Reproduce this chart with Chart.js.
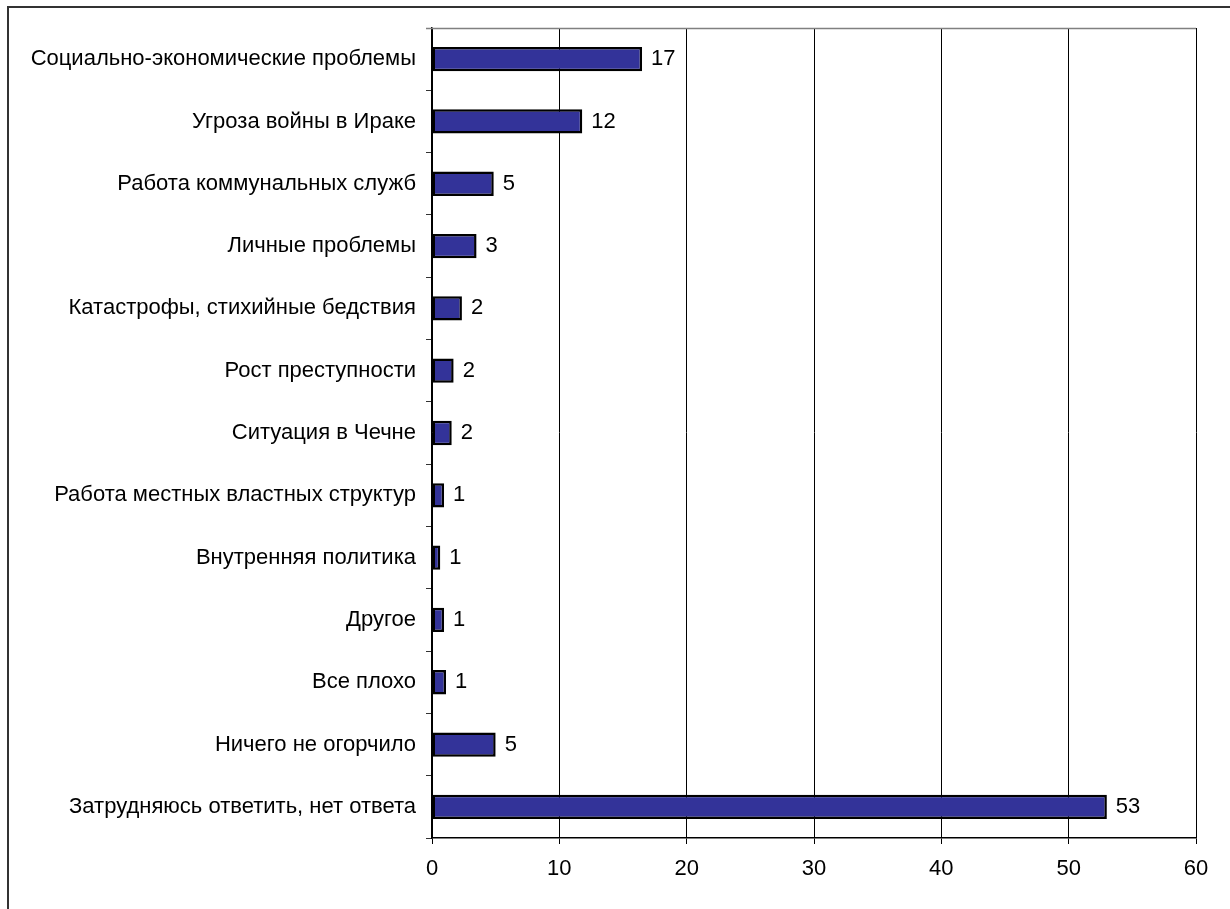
<!DOCTYPE html>
<html>
<head>
<meta charset="utf-8">
<script src="https://cdn.jsdelivr.net/npm/chart.js@4/dist/chart.umd.min.js"></script>
<style>
  html, body { margin: 0; padding: 0; background: #ffffff; }
  #wrap { width: 1230px; height: 909px; }
</style>
</head>
<body>
<div id="wrap"><canvas id="c" width="1230" height="909"></canvas></div>
<script>
const categories = [
  "Социально-экономические проблемы",
  "Угроза войны в Ираке",
  "Работа коммунальных служб",
  "Личные проблемы",
  "Катастрофы, стихийные бедствия",
  "Рост преступности",
  "Ситуация в Чечне",
  "Работа местных властных структур",
  "Внутренняя политика",
  "Другое",
  "Все плохо",
  "Ничего не огорчило",
  "Затрудняюсь ответить, нет ответа"
];
const values = [16.5, 11.8, 4.85, 3.5, 2.35, 1.7, 1.55, 0.95, 0.65, 0.95, 1.1, 5.0, 53.0];
const valueLabels = ["17", "12", "5", "3", "2", "2", "2", "1", "1", "1", "1", "5", "53"];
const xTicks = [0, 10, 20, 30, 40, 50, 60];

const FONT = '"Liberation Sans", Arial, sans-serif';

const framePlugin = {
  id: 'frame',
  beforeDraw(chart) {
    const ctx = chart.ctx;
    ctx.save();
    ctx.fillStyle = '#ffffff';
    ctx.fillRect(0, 0, chart.width, chart.height);
    ctx.strokeStyle = '#333333';
    ctx.lineWidth = 2;
    ctx.beginPath();
    ctx.moveTo(8, chart.height + 5);
    ctx.lineTo(8, 7);
    ctx.lineTo(chart.width + 5, 7);
    ctx.stroke();
    ctx.restore();
  },
  afterDatasetsDraw(chart) {
    const ctx = chart.ctx;
    const a = chart.chartArea;
    ctx.save();
    ctx.strokeStyle = '#808080';
    ctx.lineWidth = 1.5;
    ctx.beginPath();
    ctx.moveTo(a.left - 6, a.top + 0.5);
    ctx.lineTo(a.right, a.top + 0.5);
    ctx.stroke();
    const meta = chart.getDatasetMeta(0);
    ctx.fillStyle = '#000000';
    ctx.font = '22px ' + FONT;
    ctx.textAlign = 'left';
    ctx.textBaseline = 'middle';
    meta.data.forEach((bar, i) => {
      ctx.fillText(valueLabels[i], bar.x + 9, bar.y);
    });
    ctx.restore();
  }
};

new Chart(document.getElementById('c'), {
  type: 'bar',
  data: {
    labels: categories,
    datasets: [{
      data: values,
      backgroundColor: '#333399',
      borderColor: '#000000',
      borderWidth: 2.5,
      borderSkipped: false,
      barPercentage: 0.39,
      categoryPercentage: 1.0
    }]
  },
  options: {
    indexAxis: 'y',
    responsive: false,
    animation: false,
    devicePixelRatio: 1,
    layout: { padding: { left: 0, top: 28, right: 34, bottom: 0 } },
    plugins: {
      legend: { display: false },
      tooltip: { enabled: false },
      title: { display: false }
    },
    scales: {
      x: {
        type: 'linear',
        min: 0,
        max: 60,
        afterBuildTicks(scale) { scale.ticks = xTicks.map(v => ({ value: v })); },
        afterFit(scale) { scale.height = 71; },
        grid: {
          color: '#000000',
          lineWidth: 1,
          tickLength: 6,
          drawTicks: true
        },
        border: { display: true, color: '#000000', width: 1.5 },
        ticks: {
          color: '#000000',
          font: { family: FONT, size: 22 },
          padding: 12,
          maxRotation: 0
        }
      },
      y: {
        type: 'category',
        afterFit(scale) { scale.width = 432; },
        grid: {
          display: true,
          drawOnChartArea: false,
          drawTicks: true,
          tickLength: 6,
          color: '#333333',
          offset: true
        },
        border: { display: true, color: '#000000', width: 1.5 },
        ticks: {
          color: '#000000',
          font: { family: FONT, size: 22 },
          padding: 10,
          autoSkip: false
        }
      }
    }
  },
  plugins: [framePlugin]
});
</script>
</body>
</html>
